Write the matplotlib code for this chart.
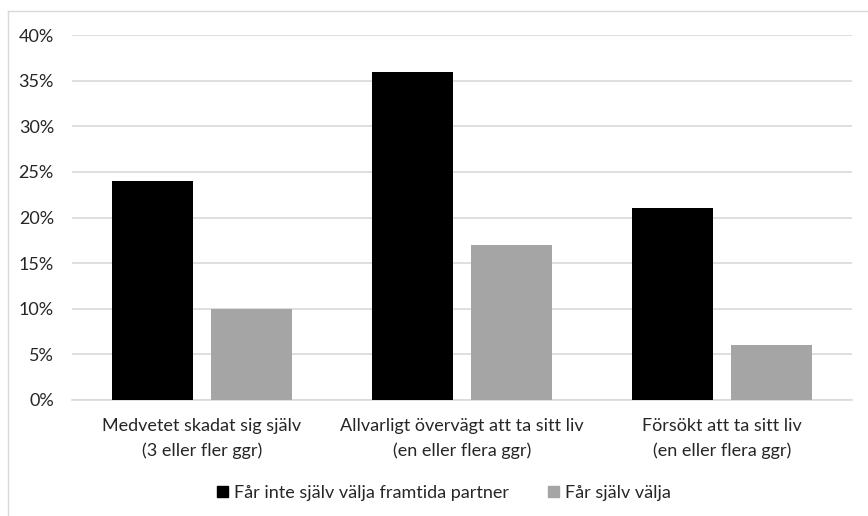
import numpy as np
import matplotlib.pyplot as plt
from matplotlib.lines import Line2D
from matplotlib.patches import Patch

categories = ["Medvetet skadat sig själv\n(3 eller fler ggr)",
              "Allvarligt övervägt att ta sitt liv\n(en eller flera ggr)",
              "Försökt att ta sitt liv\n(en eller flera ggr)"]
inte_valja = [24, 36, 21]
sjalv_valja = [10, 17, 6]
series_names = ["Får inte själv välja framtida partner", "Får själv välja"]
yticks = [0, 5, 10, 15, 20, 25, 30, 35, 40]

plt.rcParams['font.family'] = ['Lato', 'DejaVu Sans']

fig = plt.figure(figsize=(8.68, 5.16), dpi=100)
W, H = 868, 516
ax = fig.add_axes([72 / W, 1 - 400 / H, 780 / W, 365 / H])

x = np.arange(len(categories))
bw = 0.31
ax.bar(x - 0.19, inte_valja, bw, color='black', zorder=3)
ax.bar(x + 0.19, sjalv_valja, bw, color='#a5a5a5', zorder=3)

ax.set_xlim(-0.5, 2.5)
ax.set_ylim(0, 40)
ax.set_yticks(yticks)
ax.set_yticklabels([f"{v}%" for v in yticks])
ax.set_xticks(x)
ax.set_xticklabels(categories, linespacing=1.65)
ax.tick_params(length=0, labelsize=13, colors='#262626')
ax.tick_params(axis='y', pad=13)
ax.tick_params(axis='x', pad=13)
ax.grid(axis='y', color='#d9d9d9', linewidth=1.2, zorder=0)
for s in ['top', 'right', 'left']:
    ax.spines[s].set_visible(False)
ax.spines['bottom'].set_color('#d9d9d9')
ax.spines['bottom'].set_linewidth(1.2)

handles = [Patch(color='black'), Patch(color='#a5a5a5')]
fig.legend(handles, series_names, loc='center', bbox_to_anchor=(444 / W, 1 - 493 / H),
           ncol=2, frameon=False, fontsize=13, handlelength=0.6, handleheight=0.6,
           handletextpad=0.3, columnspacing=2.2, labelcolor='#262626')

# chart border
fig.add_artist(Line2D([8 / W, 8 / W], [0, 1 - 11 / H], color='#d9d9d9', lw=1))
fig.add_artist(Line2D([8 / W, 1], [1 - 11 / H, 1 - 11 / H], color='#d9d9d9', lw=1))

fig.savefig("out.png", dpi=100)
